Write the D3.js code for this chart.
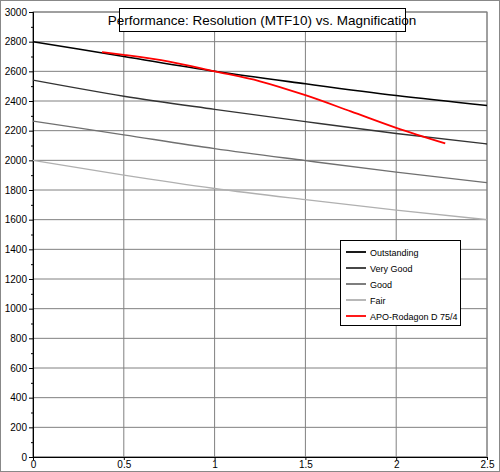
<!DOCTYPE html><html><head><script src="https://d3js.org/d3.v7.min.js"></script>
<style>body{margin:0;background:#fff}text{font-family:"Liberation Sans",Arial,sans-serif}</style></head><body><svg width="500" height="472"></svg>
<script>
const mags=[0,0.5,1,1.5,2,2.5];
const outstanding=[2800,2700,2600,2516,2437,2370];
const veryGood=[2540,2432,2344,2261,2181,2110];
const good=[2265,2172,2079,1998,1920,1850];
const fair=[2000,1900,1810,1735,1665,1600];
const redX=[0.38,0.5,0.75,1,1.25,1.5,1.75,2,2.27];
const redY=[2730,2711,2665,2600,2533,2439,2330,2219,2114];
const yTicks=d3.range(0,3001,200), xTicks=[0,0.5,1,1.5,2,2.5];
const svg=d3.select("svg");
svg.append("rect").attr("x",0.5).attr("y",0.5).attr("width",499).attr("height",471).attr("fill","#fff").attr("stroke","#888");
const x=d3.scaleLinear().domain([0,2.5]).range([33,487]);
const y=d3.scaleLinear().domain([0,3000]).range([457,12]);
svg.append("rect").attr("x",33).attr("y",12).attr("width",454).attr("height",445).attr("fill","#fff").attr("stroke","#808080");
svg.append("g").selectAll("line").data(yTicks).join("line").attr("x1",33).attr("x2",487).attr("y1",d=>y(d)).attr("y2",d=>y(d)).attr("stroke","#808080");
svg.append("g").selectAll("line").data(xTicks).join("line").attr("y1",12).attr("y2",457).attr("x1",d=>x(d)).attr("x2",d=>x(d)).attr("stroke","#808080");
const ya=svg.append("g").attr("transform","translate(33,0)").call(d3.axisLeft(y).tickValues(yTicks).tickFormat(d3.format("d")).tickSize(4).tickPadding(2).tickSizeOuter(0));
const xa=svg.append("g").attr("transform","translate(0,457)").call(d3.axisBottom(x).tickValues(xTicks).tickFormat(d=>String(d)).tickSize(3).tickPadding(1).tickSizeOuter(0));
svg.append("g").attr("transform","translate(33,0)").call(d3.axisLeft(y).tickValues(d3.range(100,3000,200)).tickSize(2).tickFormat(""));
[ya,xa].forEach(a=>{a.selectAll("text").attr("font-size",10).attr("fill","#000");a.selectAll("line,path").attr("stroke","#000");});
const line=d3.line().x(d=>x(d[0])).y(d=>y(d[1])).curve(d3.curveMonotoneX);
const series=[[outstanding,"#000","Outstanding",1.6],[veryGood,"#333","Very Good",1.3],[good,"#707070","Good",1.3],[fair,"#b0b0b0","Fair",1.3]];
series.forEach(s=>svg.append("path").attr("d",line(mags.map((m,i)=>[m,s[0][i]]))).attr("fill","none").attr("stroke",s[1]).attr("stroke-width",s[3]));
svg.append("path").attr("d",line(redX.map((m,i)=>[m,redY[i]]))).attr("fill","none").attr("stroke","#f00").attr("stroke-width",1.8);
svg.append("rect").attr("x",119.5).attr("y",8.5).attr("width",286).attr("height",23).attr("fill","#fff").attr("stroke","#000");
svg.append("text").attr("x",262).attr("y",25).attr("text-anchor","middle").attr("font-size",13.5).text("Performance: Resolution (MTF10) vs. Magnification");
const lg=svg.append("g").attr("transform","translate(340,240)");
lg.append("rect").attr("x",0.5).attr("y",0.5).attr("width",120).attr("height",85).attr("fill","#fff").attr("stroke","#000");
const items=series.map(s=>[s[2],s[1]]).concat([["APO-Rodagon D 75/4","#f00"]]);
items.forEach((it,i)=>{const yy=12+i*16;
lg.append("line").attr("x1",6).attr("x2",26).attr("y1",yy).attr("y2",yy).attr("stroke",it[1]).attr("stroke-width",1.8);
lg.append("text").attr("x",30).attr("y",yy+3.5).attr("font-size",9).text(it[0]);});
</script></body></html>
